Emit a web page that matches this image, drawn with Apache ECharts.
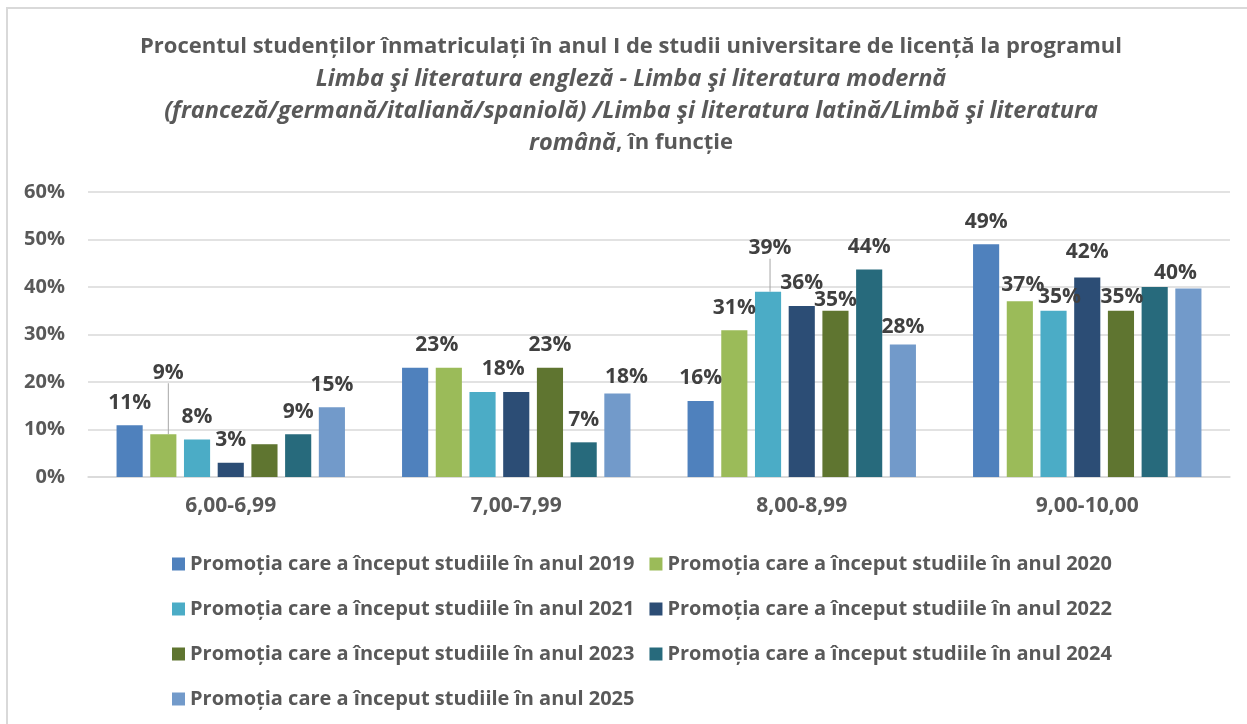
<!DOCTYPE html>
<html>
<head>
<meta charset="utf-8">
<script src="https://cdn.jsdelivr.net/npm/echarts@6/dist/echarts.min.js"></script>
<style>
	html, body { margin: 0; padding: 0; background: #fff; }
	#frame {
		position: absolute; left: 6px; top: 7px; width: 1300px; height: 800px;
		border-top: 2px solid #d9d9d9; border-left: 2px solid #d9d9d9;
	}
	#main { position: absolute; left: 0; top: 0; width: 1247px; height: 724px; }
</style>
</head>
<body>
<div id="frame"></div>
<div id="main"></div>
<script>
	// categorii (intervale de medii)
	var categories = ["6,00-6,99", "7,00-7,99", "8,00-8,99", "9,00-10,00"];
	var seriesNames = [
		"Promoția care a început studiile în anul 2019",
		"Promoția care a început studiile în anul 2020",
		"Promoția care a început studiile în anul 2021",
		"Promoția care a început studiile în anul 2022",
		"Promoția care a început studiile în anul 2023",
		"Promoția care a început studiile în anul 2024",
		"Promoția care a început studiile în anul 2025"
	];
	// procente
	var p2019 = [10.9, 23, 16, 49];
	var p2020 = [9, 23, 30.9, 37];
	var p2021 = [7.9, 17.9, 39, 35];
	var p2022 = [3, 17.9, 36, 42];
	var p2023 = [6.9, 23, 35, 35];
	var p2024 = [9, 7.3, 43.7, 40];
	var p2025 = [14.7, 17.6, 27.9, 39.7];
	var yTicks = [0, 10, 20, 30, 40, 50, 60];

	var colors = ["#4f81bd", "#9bbb59", "#4bacc6", "#2c4d75", "#5f7530", "#276a7c", "#729aca"];
	var allValues = [p2019, p2020, p2021, p2022, p2023, p2024, p2025];
	var font = "Open Sans";

	// etichete ascunse / mutate (serie-categorie)
	var hidden = { "4-0": 1, "0-1": 1, "2-1": 1, "5-3": 1 };
	var withLine = { "1-0": 1, "2-2": 1 };
	var moves = {
		"1-0": [5, -39],
		"1-1": [-12, 0],
		"3-1": [-13, 0],
		"6-1": [9, 6],
		"2-2": [2, -21],
		"4-2": [0, 12],
		"6-2": [0, 5],
		"1-3": [3, 6],
		"2-3": [6, 9],
		"3-3": [0, -3],
		"4-3": [1, 9],
		"6-3": [-13, 7]
	};

	var myChart = echarts.init(document.getElementById("main"));

	var series = allValues.map(function(vals, s) {
		return {
			name: seriesNames[s],
			type: "bar",
			barGap: "29%",
			barCategoryGap: "20%",
			itemStyle: { color: colors[s] },
			label: {
				show: true,
				position: "top",
				distance: 12,
				color: "#404040",
				fontFamily: font,
				fontWeight: "bold",
				fontSize: 21,
				formatter: function(p) { return Math.round(p.value) + "%"; }
			},
			labelLine: { show: false, lineStyle: { color: "#a6a6a6", width: 1 } },
			labelLayout: function(p) {
				var m = moves[p.seriesIndex + "-" + p.dataIndex];
				return m ? { dx: m[0], dy: m[1] } : {};
			},
			data: vals.map(function(v, i) {
				var key = s + "-" + i;
				var item = { value: v };
				if (hidden[key]) item.label = { show: false };
				if (withLine[key]) item.labelLine = { show: true };
				return item;
			})
		};
	});

	var option = {
		color: colors,
		animation: false,
		title: {
			left: 626,
			textAlign: "center",
			top: 26,
			text: "{n|Procentul studenților înmatriculați în anul I de studii universitare de licență la programul}\n" +
				"{i|Limba şi literatura engleză - Limba şi literatura modernă}\n" +
				"{i|(franceză/germană/italiană/spaniolă) /Limba şi literatura latină/Limbă şi literatura}\n" +
				"{i|română}{n|, în funcție}",
			textStyle: {
				fontFamily: font,
				fontSize: 22,
				fontWeight: "bold",
				color: "#595959",
				lineHeight: 32,
				rich: {
					n: { fontFamily: font, fontSize: 22, fontWeight: "bold", color: "#595959", lineHeight: 32 },
					i: { fontFamily: font, fontSize: 23.5, fontWeight: "bold", fontStyle: "italic", color: "#595959", lineHeight: 32 }
				}
			}
		},
		legend: {
			left: 167,
			top: 544,
			width: 960,
			icon: "rect",
			itemWidth: 13,
			itemHeight: 13,
			itemGap: 15,
			textStyle: {
				fontFamily: font,
				fontSize: 20,
				fontWeight: "bold",
				color: "#595959",
				lineHeight: 30
			},
			data: seriesNames
		},
		grid: { left: 88, right: 17, top: 192, bottom: 247 },
		xAxis: {
			type: "category",
			data: categories,
			axisTick: { show: false },
			axisLine: { lineStyle: { color: "#d9d9d9", width: 1.5 } },
			axisLabel: {
				margin: 19,
				fontFamily: font,
				fontSize: 21,
				fontWeight: "bold",
				color: "#595959"
			}
		},
		yAxis: {
			type: "value",
			min: yTicks[0],
			max: yTicks[yTicks.length - 1],
			interval: 10,
			axisLine: { show: false },
			axisTick: { show: false },
			splitLine: { lineStyle: { color: "#d9d9d9", width: 1.5 } },
			axisLabel: {
				margin: 23,
				fontFamily: font,
				fontSize: 20,
				fontWeight: "bold",
				color: "#595959",
				formatter: "{value}%"
			}
		},
		series: series
	};

	myChart.setOption(option);
</script>
</body>
</html>
